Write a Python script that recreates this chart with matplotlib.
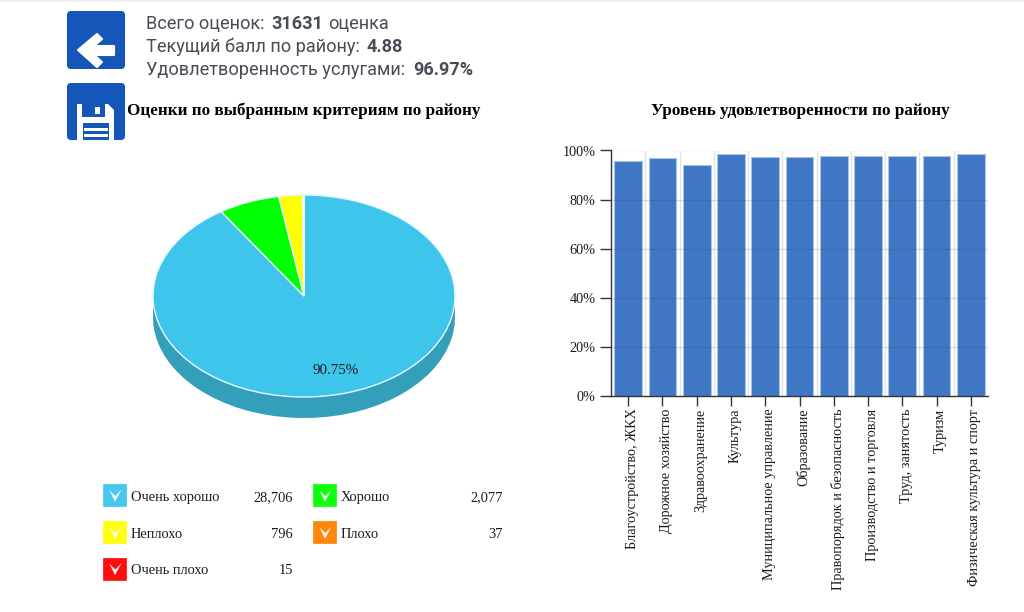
import matplotlib
matplotlib.use("Agg")
import matplotlib.pyplot as plt
from matplotlib.patches import FancyBboxPatch, Polygon, Rectangle
from matplotlib.ticker import PercentFormatter
from matplotlib.transforms import ScaledTranslation

W, H = 1024, 612
SERIF = "Liberation Serif"
SANS = "Roboto"

# Pie / legend data
rating_labels = ["Очень хорошо", "Хорошо", "Неплохо", "Плохо", "Очень плохо"]
rating_counts = [28706, 2077, 796, 37, 15]
rating_colors = ["#3ec5ec", "#00ff00", "#ffff00", "#ff8000", "#ff0000"]
rating_dark = ["#349fba", "#00cc00", "#cccc00", "#cc6600", "#cc0000"]
pie_label = "90.75%"

# Bar data
sectors = ["Благоустройство, ЖКХ", "Дорожное хозяйство", "Здравоохранение", "Культура",
           "Муниципальное управление", "Образование", "Правопорядок и безопасность",
           "Производство и торговля", "Труд, занятость", "Туризм",
           "Физическая культура и спорт"]
satisfaction = [95.7, 96.8, 94.1, 98.5, 97.4, 97.4, 97.9, 97.9, 97.9, 97.9, 98.5]
y_ticks = [0, 20, 40, 60, 80, 100]

# Header text
header_lines = [("Всего оценок: ", "31631", " оценка"),
                ("Текущий балл по району: ", "4.88", ""),
                ("Удовлетворенность услугами: ", "96.97%", "")]
title_left = "Оценки по выбранным критериям по району"
title_right = "Уровень удовлетворенности по району"

fig = plt.figure(figsize=(W / 100, H / 100), dpi=100, facecolor="white")


def axes_px(x0, y0, x1, y1, **kw):
    return fig.add_axes([x0 / W, 1 - y1 / H, (x1 - x0) / W, (y1 - y0) / H], **kw)


# ---- overlay in pixel coordinates
ov = axes_px(0, 0, W, H)
ov.set_xlim(0, W)
ov.set_ylim(H, 0)
ov.axis("off")
ov.set_zorder(5)
ov.patch.set_alpha(0)
ov.add_patch(Rectangle((0, 0), W, 1.5, color="#eeeeee", lw=0))

BLUE = "#1557b8"
TXT = "#474c57"
# back icon
ov.add_patch(FancyBboxPatch((70, 14), 52, 52, boxstyle="round,pad=3,rounding_size=4", fc=BLUE, ec="none"))
ov.add_patch(Polygon([(78, 50), (97, 34), (102, 39), (94, 46), (114, 46), (114, 55), (94, 55),
                      (102, 62), (97, 67)], closed=True, fc="white", ec="white", lw=1.5,
                     joinstyle="round"))
# save icon
ov.add_patch(FancyBboxPatch((70, 86), 52, 51, boxstyle="round,pad=3,rounding_size=4", fc=BLUE, ec="none"))
ov.add_patch(Polygon([(77, 104), (108, 104), (114, 110), (114, 140), (77, 140)], closed=True, fc="white", ec="none"))
ov.add_patch(Rectangle((82, 104), 23, 13, fc=BLUE, ec="none"))
ov.add_patch(Rectangle((95, 107), 5, 7, fc="white", ec="none"))
ov.add_patch(Rectangle((83, 123), 26, 17, fc=BLUE, ec="none"))
for yy in (128, 134):
    ov.add_patch(Rectangle((84, yy), 24, 2.5, fc="white", ec="none"))
ov.add_patch(Rectangle((60, 140), 72, 6, fc="white", ec="none"))

# header
bx = [271, 367, 413]
ax3 = [328, None, None]
for (a, b, c), by, x1, x2 in zip(header_lines, [29, 52, 75], bx, ax3):
    ov.text(146, by, a, family=SANS, fontsize=13.1, color=TXT, va="baseline")
    ov.text(x1, by, b, family=SANS, fontsize=13.1, fontweight="bold", color=TXT, va="baseline")
    if c:
        ov.text(x2, by, c.strip(), family=SANS, fontsize=13.1, color=TXT, va="baseline")

ov.text(304, 111, title_left, family=SERIF, fontsize=12.3, fontweight="bold", color="black",
        ha="center", va="center")
ov.text(800, 111, title_right, family=SERIF, fontsize=12.3, fontweight="bold", color="black",
        ha="center", va="center")

# legend
leg_x = [103, 313]
leg_val = [293, 503]
leg_y = [495, 532, 568.5]
for i, (lab, val, col) in enumerate(zip(rating_labels, rating_counts, rating_colors)):
    col_i = i % 2
    yy = leg_y[i // 2]
    x = leg_x[col_i]
    ov.add_patch(Rectangle((x, yy - 11), 22.5, 22, fc=col, ec=col, lw=0.5, alpha=0.95))
    ov.add_patch(Polygon([(x + 6.3, yy - 5), (x + 12, yy + 6.7), (x + 18.7, yy - 5.7), (x + 12.3, yy + 1)],
                         closed=True, fc="white", ec="none", alpha=0.92))
    ov.text(x + 28, yy + 2.2, lab, family=SERIF, fontsize=10.4, color="#1c1c1c", va="center")
    ov.text(leg_val[col_i], yy + 2.2, f"{val:,}", family=SERIF, fontsize=10.4, color="#1c1c1c",
            va="center", ha="right")

# ---- pie
cx, cy, rx, ry, depth = 304, 296, 151, 101, 21
pie = axes_px(cx - 1.25 * rx, cy - 1.25 * ry, cx + 1.25 * rx, cy + 1.25 * ry)
pie.pie(rating_counts, colors=rating_dark, startangle=90, counterclock=False,
        center=(0, -depth / ry), radius=1, wedgeprops=dict(lw=0, zorder=1))
pie.fill_between([-1, 1], [-depth / ry] * 2, [0, 0], color=rating_dark[0], lw=0, zorder=1.5)
pie.pie(rating_counts, colors=rating_colors, startangle=90, counterclock=False,
        center=(0, 0), radius=1, wedgeprops=dict(lw=1.0, edgecolor="#e8f7fc", zorder=2))
pie.set_aspect("auto")
pie.set_xlim(-1.25, 1.25)
pie.set_ylim(-1.25, 1.25)
pie.text(32 / rx, -75 / ry, pie_label, family=SERIF, fontsize=10.8, color="#1c1c1c",
         ha="center", va="center", zorder=3)

# ---- bars
bar = axes_px(611, 150.5, 988, 396)
x = list(range(len(sectors)))
bar.set_axisbelow(False)
bar.bar(x, satisfaction, width=0.81, color="#3f77c4", edgecolor="#a9c3e6", linewidth=0.8, zorder=2)
bar.set_xlim(-0.5, len(sectors) - 0.5)
bar.set_ylim(0, 100)
bar.set_yticks(y_ticks)
bar.yaxis.set_major_formatter(PercentFormatter(100, decimals=0))
bar.set_xticks(x)
bar.set_xticklabels(sectors, rotation=90, family=SERIF, fontsize=10.3, color="#1c1c1c")
for lab in bar.get_yticklabels():
    lab.set_family(SERIF)
    lab.set_fontsize(10.3)
    lab.set_color("#1c1c1c")
for xb in [i + 0.5 for i in x]:
    bar.axvline(xb, color="#e2e2e2", lw=1, zorder=1)
for yv in y_ticks[1:-1]:
    bar.axhline(yv, color="#333333", lw=1, alpha=0.14, zorder=3)
bar.axhline(100, color="#e2e2e2", lw=1, zorder=1)
bar.tick_params(axis="y", length=8, width=1, color="#333333", pad=3)
bar.tick_params(axis="x", length=7, width=1, color="#333333", pad=2)
shift = ScaledTranslation(4 / 100, 0, fig.dpi_scale_trans)
for lab in bar.get_xticklabels():
    lab.set_transform(lab.get_transform() + shift)
for s in ("top", "right"):
    bar.spines[s].set_visible(False)
for s in ("left", "bottom"):
    bar.spines[s].set_color("#333333")
    bar.spines[s].set_linewidth(1)

fig.savefig("out.png", dpi=100, facecolor="white")
